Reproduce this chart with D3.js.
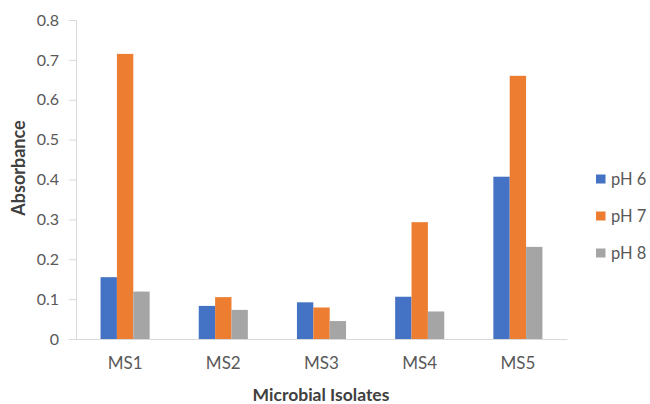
<!DOCTYPE html>
<html><head><meta charset="utf-8">
<script src="https://cdn.jsdelivr.net/npm/d3@7"></script>
<style>body{margin:0;background:#fff;}</style>
</head><body>
<svg id="c" width="650" height="404"></svg>
<script>
const categories = ["MS1","MS2","MS3","MS4","MS5"];
const seriesNames = ["pH 6","pH 7","pH 8"];
const pH6 = [0.155,0.083,0.092,0.106,0.407];
const pH7 = [0.715,0.105,0.079,0.293,0.660];
const pH8 = [0.119,0.073,0.045,0.069,0.231];
const yTicks = [0,0.1,0.2,0.3,0.4,0.5,0.6,0.7,0.8];
const colors = ["#4472C4","#ED7D31","#A5A5A5"];
const series = [pH6,pH7,pH8];

const svg = d3.select("#c");
const font = "Lato, 'Open Sans', sans-serif";
const x0 = d3.scaleBand().domain(categories).range([76,567]).paddingInner(0.5).paddingOuter(0.25);
const x1 = d3.scaleBand().domain(seriesNames).range([0,x0.bandwidth()]);
const y = d3.scaleLinear().domain([0,0.8]).range([339,20]);

// y axis
const ya = svg.append("g").attr("transform","translate(76,0)")
  .call(d3.axisLeft(y).tickValues(yTicks).tickSize(7).tickPadding(10).tickFormat(d=>d===0?"0":d3.format(".1f")(d)));
ya.select(".domain").attr("stroke","#d9d9d9");
ya.selectAll(".tick line").attr("stroke","#d9d9d9");
ya.selectAll("text").attr("fill","#595959").style("font-family",font).style("font-size","16px");

// bars
const g = svg.append("g");
categories.forEach((c,i)=>{
  seriesNames.forEach((s,j)=>{
    g.append("rect").attr("x",x0(c)+x1(s)).attr("width",x1.bandwidth())
      .attr("y",y(series[j][i])).attr("height",y(0)-y(series[j][i])).attr("fill",colors[j]);
  });
});

// x axis
const xa = svg.append("g").attr("transform","translate(0,339)")
  .call(d3.axisBottom(x0).tickSize(0).tickPadding(18).tickSizeOuter(0));
xa.select(".domain").attr("stroke","#d9d9d9");
xa.selectAll("text").attr("fill","#595959").style("font-family",font).style("font-size","17px");

// titles
svg.append("text").attr("x",321).attr("y",401).attr("text-anchor","middle")
  .style("font-family",font).style("font-size","17.5px").style("font-weight","bold").attr("fill","#404040").text("Microbial Isolates");
svg.append("text").attr("transform","translate(25,168) rotate(-90)").attr("text-anchor","middle")
  .style("font-family",font).style("font-size","18px").style("font-weight","bold").attr("fill","#404040").text("Absorbance");

// legend
const lg = svg.append("g");
seriesNames.forEach((s,j)=>{
  const cy = 179 + j*37;
  lg.append("rect").attr("x",596).attr("y",cy-4.5).attr("width",9.5).attr("height",9).attr("fill",colors[j]);
  lg.append("text").attr("x",611).attr("y",cy).attr("dy","0.35em").attr("fill","#595959")
    .style("font-family",font).style("font-size","16.5px").text(s);
});
</script>
</body></html>
